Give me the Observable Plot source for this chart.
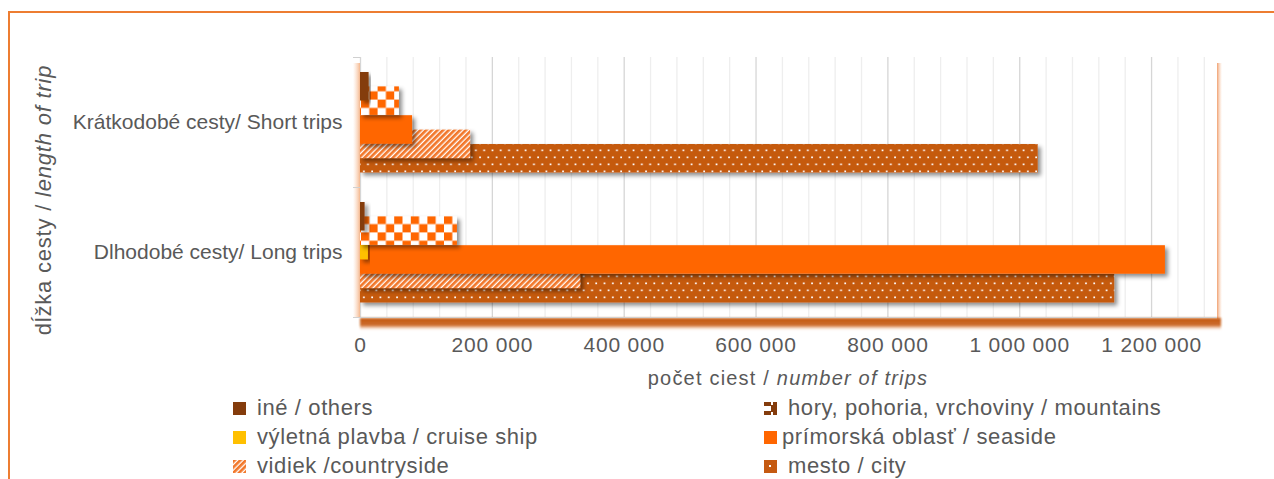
<!DOCTYPE html>
<html><head><meta charset="utf-8">
<script src="https://cdn.jsdelivr.net/npm/d3@7"></script>
<script src="https://cdn.jsdelivr.net/npm/@observablehq/plot@0.6"></script>
<style>
html,body{margin:0;padding:0;background:#fff;}
#wrap{position:relative;width:1274px;height:479px;overflow:hidden;font-family:"Liberation Sans",Arial,sans-serif;color:#595959;}
#frame{position:absolute;left:8px;top:11px;width:1400px;height:600px;border-left:2px solid #ED7D31;border-top:2px solid #ED7D31;box-sizing:border-box;}
#chart{position:absolute;left:0;top:0;}
.sw{position:absolute;width:13px;height:13px;}
.lt{position:absolute;height:26px;line-height:26px;font-size:22px;letter-spacing:0.6px;white-space:nowrap;color:#595959;}
</style>
</head>
<body>
<div id="wrap">
  <div id="frame"></div>
  <div id="chart"></div>
  <div id="legend"></div>
</div>
<script>
// ---- data ----
const categories = ["Krátkodobé cesty/ Short trips", "Dlhodobé cesty/ Long trips"];
const seriesNames = [
  "iné / others",
  "hory, pohoria, vrchoviny / mountains",
  "výletná plavba / cruise ship",
  "prímorská oblasť / seaside",
  "vidiek /countryside",
  "mesto / city"
];
const others      = [13000, 7000];
const mountains   = [59000, 147000];
const cruiseShip  = [0, 12000];
const seaside     = [79000, 1221000];
const countryside = [167000, 334000];
const city        = [1028000, 1144000];
const xTicks = [0, 200000, 400000, 600000, 800000, 1000000, 1200000];
const xMinorTicks = [40000, 80000, 120000, 160000, 240000, 280000, 320000, 360000, 440000, 480000, 520000, 560000, 640000, 680000, 720000, 760000, 840000, 880000, 920000, 960000, 1040000, 1080000, 1120000, 1160000, 1240000, 1280000];
const xTitle = ["počet ciest / ", "number of trips"];
const yTitle = ["dĺžka cesty / ", "length of trip"];

// ---- styles ----
const seriesValues = [others, mountains, cruiseShip, seaside, countryside, city];
const seriesFills = ["#843C0C", "url(#pCheck)", "#FFC000", "#FF6600", "url(#pHatch)", "url(#pCity)"];
const bandH = 130, barH = 28.5, step = 14.4, firstOff = 15;

const fmt = d => d3.format(",")(d).replace(/,/g, " ");

const marks = [
  Plot.ruleX(xMinorTicks, {stroke: "#eeeeee", strokeWidth: 1.3}),
  Plot.ruleX(xTicks, {stroke: "#d6d6d6", strokeWidth: 1.3})
];
for (let i = seriesNames.length - 1; i >= 0; i--) {
  const rows = categories.map((c, j) => ({category: c, value: seriesValues[i][j], series: seriesNames[i]}));
  const top = firstOff + step * i;
  marks.push(Plot.barX(rows, {
    y: "category", x1: () => 0, x2: "value",
    fill: seriesFills[i],
    insetTop: top, insetBottom: bandH - top - barH
  }));
}

const plot = Plot.plot({
  width: 1274, height: 395,
  marginLeft: 360, marginRight: 57, marginTop: 57, marginBottom: 78,
  style: {fontSize: "21px", fontFamily: "Liberation Sans, Arial, sans-serif", color: "#595959", background: "transparent", overflow: "visible"},
  x: {domain: [0, 1300000], ticks: xTicks, tickFormat: fmt, tickSize: 0, tickPadding: 20, label: null},
  y: {domain: categories, padding: 0, tickSize: 0, tickPadding: 18, label: null},
  marks
});
document.getElementById("chart").appendChild(plot);

const svg = d3.select(plot);
const defs = svg.insert("defs", ":first-child");
// checkerboard
const pc = defs.append("pattern").attr("id", "pCheck").attr("patternUnits", "userSpaceOnUse").attr("width", 16.6).attr("height", 16.6).attr("x", 361).attr("y", 0);
pc.append("rect").attr("width", 16.6).attr("height", 16.6).attr("fill", "#fff");
pc.append("rect").attr("width", 8.3).attr("height", 8.3).attr("fill", "#FF6600");
pc.append("rect").attr("x", 8.3).attr("y", 8.3).attr("width", 8.3).attr("height", 8.3).attr("fill", "#FF6600");
// hatch
const ph = defs.append("pattern").attr("id", "pHatch").attr("patternUnits", "userSpaceOnUse").attr("width", 4).attr("height", 4).attr("patternTransform", "rotate(45)");
ph.append("rect").attr("width", 4).attr("height", 4).attr("fill", "#fff");
ph.append("rect").attr("width", 2.7).attr("height", 4).attr("fill", "#F2772A");
// city dots
const pd = defs.append("pattern").attr("id", "pCity").attr("patternUnits", "userSpaceOnUse").attr("width", 8.3).attr("height", 14).attr("x", 361).attr("y", 0);
pd.append("rect").attr("width", 8.3).attr("height", 14).attr("fill", "#C55A11");
pd.append("rect").attr("x", 2).attr("y", 2.5).attr("width", 1.7).attr("height", 1.7).attr("fill", "#fff");
pd.append("rect").attr("x", 6.1).attr("y", 9.5).attr("width", 1.7).attr("height", 1.7).attr("fill", "#fff");
// shadow filter
const f = defs.append("filter").attr("id", "shadow").attr("x", "-10%").attr("y", "-30%").attr("width", "130%").attr("height", "180%");
f.append("feDropShadow").attr("dx", 3).attr("dy", 3).attr("stdDeviation", 2).attr("flood-color", "#000").attr("flood-opacity", 0.45);
const blur = defs.append("filter").attr("id", "blur").attr("x", "-5%").attr("y", "-100%").attr("width", "110%").attr("height", "300%");
blur.append("feGaussianBlur").attr("stdDeviation", 1.1);
// gradients
const gl = defs.append("linearGradient").attr("id", "gLeft").attr("x1", 0).attr("x2", 1).attr("y1", 0).attr("y2", 0);
gl.append("stop").attr("offset", 0).attr("stop-color", "#F8CBAD").attr("stop-opacity", 0);
gl.append("stop").attr("offset", 1).attr("stop-color", "#F4B183").attr("stop-opacity", 0.9);
const gr = defs.append("linearGradient").attr("id", "gRight").attr("x1", 0).attr("x2", 1).attr("y1", 0).attr("y2", 0);
gr.append("stop").attr("offset", 0).attr("stop-color", "#F0A070").attr("stop-opacity", 1);
gr.append("stop").attr("offset", 1).attr("stop-color", "#F8CBAD").attr("stop-opacity", 0);
const gb = defs.append("linearGradient").attr("id", "gBottom").attr("x1", 0).attr("x2", 0).attr("y1", 0).attr("y2", 1);
gb.append("stop").attr("offset", 0).attr("stop-color", "#C55A11").attr("stop-opacity", 1);
gb.append("stop").attr("offset", 0.6).attr("stop-color", "#C9631F").attr("stop-opacity", 0.95);
gb.append("stop").attr("offset", 1).attr("stop-color", "#F4B183").attr("stop-opacity", 0);

svg.selectAll('g[aria-label="bar"]').attr("filter", "url(#shadow)");

// x tick labels letter spacing
svg.selectAll('g[aria-label="x-axis tick label"] text').style("letter-spacing", "0.8px");

// decorations (plot area 3D effect)
const deco = svg.append("g");
deco.append("rect").attr("x", 353).attr("y", 63).attr("width", 7).attr("height", 254).attr("fill", "url(#gLeft)");
deco.append("rect").attr("x", 1217).attr("y", 63).attr("width", 5).attr("height", 256).attr("fill", "url(#gRight)");
deco.append("rect").attr("x", 360).attr("y", 318).attr("width", 861).attr("height", 12).attr("fill", "url(#gBottom)").attr("filter", "url(#blur)");
deco.append("line").attr("x1", 353).attr("x2", 1217).attr("y1", 317.5).attr("y2", 317.5).attr("stroke", "#d0d0d0");
[57, 187].forEach(y => deco.append("line").attr("x1", 353).attr("x2", 360).attr("y1", y + 0.5).attr("y2", y + 0.5).attr("stroke", "#d0d0d0"));

// axis titles
const xt = svg.append("text").attr("x", 788).attr("y", 385).attr("text-anchor", "middle")
  .attr("fill", "#595959").style("font-size", "20px").style("letter-spacing", "1.2px");
xt.append("tspan").text(xTitle[0]);
xt.append("tspan").attr("font-style", "italic").text(xTitle[1]);
const yt = svg.append("text").attr("transform", "translate(51,200) rotate(-90)").attr("text-anchor", "middle")
  .attr("fill", "#595959").style("font-size", "22px").style("letter-spacing", "0.8px");
yt.append("tspan").text(yTitle[0]);
yt.append("tspan").attr("font-style", "italic").text(yTitle[1]);

// ---- legend ----
const swatches = [
  '<svg class="sw" viewBox="0 0 13 13"><rect width="13" height="13" fill="#843C0C"/></svg>',
  '<svg class="sw" viewBox="0 0 13 13"><rect width="13" height="13" fill="#843C0C"/><rect x="0" y="4" width="7" height="5" fill="#fff"/><rect x="7" y="0" width="2" height="3" fill="#fff"/><rect x="7" y="10" width="2" height="3" fill="#fff"/></svg>',
  '<svg class="sw" viewBox="0 0 13 13"><rect width="13" height="13" fill="#FFC000"/></svg>',
  '<svg class="sw" viewBox="0 0 13 13"><rect width="13" height="13" fill="#FF6600"/></svg>',
  '<svg class="sw" viewBox="0 0 13 13"><rect width="13" height="13" fill="url(#pHatch)"/></svg>',
  '<svg class="sw" viewBox="0 0 13 13"><rect width="13" height="13" fill="#C55A11"/><rect x="5" y="5" width="2" height="2" fill="#fff"/></svg>'
];
const legendPos = [
  {sx: 233, tx: 257, cy: 408},
  {sx: 764, tx: 788, cy: 408},
  {sx: 233, tx: 257, cy: 437},
  {sx: 764, tx: 782, cy: 437},
  {sx: 233, tx: 257, cy: 466},
  {sx: 764, tx: 788, cy: 466}
];
const leg = document.getElementById("legend");
seriesNames.forEach((name, i) => {
  const p = legendPos[i];
  const s = document.createElement("div");
  s.style.position = "absolute"; s.style.left = p.sx + "px"; s.style.top = (p.cy - 6.5) + "px";
  s.style.width = "13px"; s.style.height = "13px";
  s.innerHTML = swatches[i];
  leg.appendChild(s);
  const t = document.createElement("div");
  t.className = "lt"; t.style.left = p.tx + "px"; t.style.top = (p.cy - 13) + "px";
  t.textContent = name;
  leg.appendChild(t);
});
</script>
</body></html>
